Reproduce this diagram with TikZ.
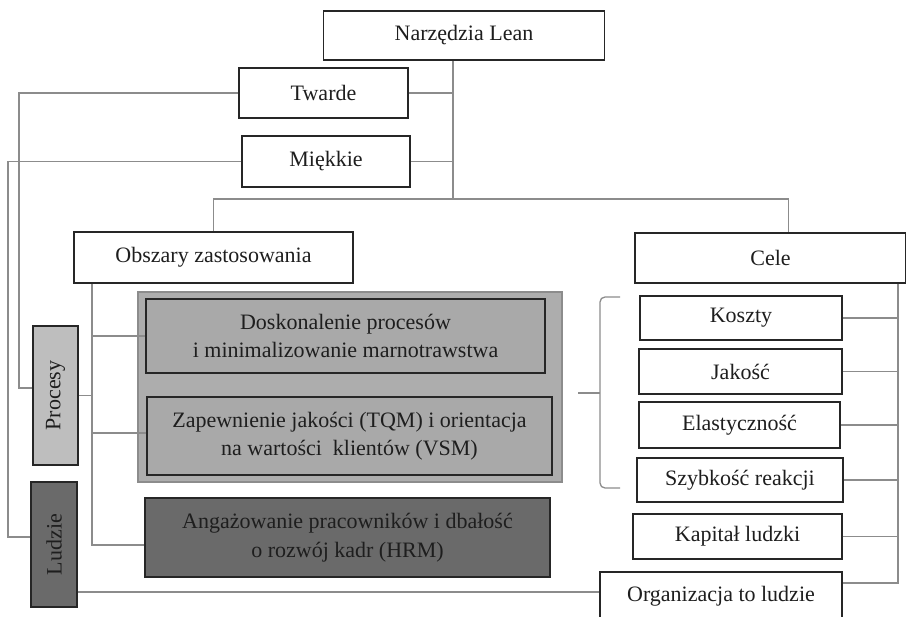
\documentclass[tikz,border=0pt]{standalone}
\usepackage{fontspec}
\setmainfont{Liberation Serif}
\definecolor{boxline}{HTML}{262626}
\definecolor{connc}{HTML}{8C8C8C}
\definecolor{textc}{HTML}{1E1E1E}
\definecolor{panelfill}{HTML}{ADADAD}
\definecolor{midfill}{HTML}{A9A9A9}
\definecolor{lightfill}{HTML}{BEBEBE}
\definecolor{darkfill}{HTML}{6A6A6A}
\begin{document}
\begin{tikzpicture}[x=1pt,y=-1pt,
  box/.style={draw=boxline, line width=1.8pt, fill=white, inner sep=0pt,
    align=center, text=textc, font=\fontsize{22}{28.5}\selectfont},
  conn/.style={draw=connc, line width=1.6pt},
  panel/.style={draw=connc, line width=2.2pt, fill=panelfill, inner sep=0pt}]
\useasboundingbox (0,0) rectangle (906,617);
\fill[white] (0,0) rectangle (906,617);

% top level
\node[box, minimum width=281pt, minimum height=49pt] (lean) at (464,35.5) {Narzędzia Lean};
\node[box, minimum width=169pt, minimum height=50pt] (twarde) at (323.5,93) {Twarde};
\node[box, minimum width=168pt, minimum height=51pt] (miekkie) at (326,161.5) {Miękkie};
\node[box, minimum width=279pt, minimum height=51pt] (obszary) at (213.5,257.5) {Obszary zastosowania};
\node[box, minimum width=271pt, minimum height=50pt] (cele) at (770.5,258) {Cele};

% areas of application
\node[panel, minimum width=424pt, minimum height=190pt] (panel) at (350,387) {};
\node[box, fill=midfill, minimum width=399pt, minimum height=74pt] (dosk) at (345.5,336)
  {Doskonalenie procesów\\ i minimalizowanie marnotrawstwa};
\node[box, fill=midfill, minimum width=405pt, minimum height=78pt] (zap) at (349.5,436)
  {Zapewnienie jakości (TQM) i orientacja\\ na wartości\ \ klientów (VSM)};
\node[box, fill=darkfill, minimum width=405pt, minimum height=79pt] (hrm) at (347.5,537.5)
  {Angażowanie pracowników i dbałość\\ o rozwój kadr (HRM)};
\node[box, fill=lightfill, minimum width=45pt, minimum height=139pt] (procesy) at (55.5,395.5)
  {\rotatebox{90}{Procesy}};
\node[box, fill=darkfill, minimum width=46pt, minimum height=125pt] (ludzie) at (54,544.5)
  {\rotatebox{90}{Ludzie}};

% goals
\node[box, minimum width=202pt, minimum height=44pt] (koszty) at (741,318) {Koszty};
\node[box, minimum width=203pt, minimum height=45pt] (jakosc) at (740.5,371.5) {Jakość};
\node[box, minimum width=201pt, minimum height=46pt] (elast) at (739.5,425) {Elastyczność};
\node[box, minimum width=206pt, minimum height=44pt] (szyb) at (740,480) {Szybkość reakcji};
\node[box, minimum width=209pt, minimum height=45pt] (kapital) at (737.5,536.5) {Kapitał ludzki};
\node[box, minimum width=242pt, minimum height=48pt] (org) at (721,596) {Organizacja to ludzie};

% bus coordinates
\coordinate (trunk) at (453,199);
\coordinate (busA) at (19,388);
\coordinate (busB) at (8,537);
\coordinate (obus) at (92,545);
\coordinate (rbus) at (898,583);
\coordinate (ludbus) at (77,592);

% main trunk
\draw[conn] (trunk |- lean.south) -- (trunk);
\draw[conn] (twarde.east) -- (twarde.east -| trunk);
\draw[conn] (miekkie.east) -- (miekkie.east -| trunk);
\draw[conn] (obszary.north) |- (trunk) -| ([xshift=18pt]cele.north);

% left buses
\draw[conn] (twarde.west) -| (busA) -- (busA -| procesy.west);
\draw[conn] (miekkie.west) -| (busB) -- (busB -| ludzie.west);

% areas bus
\draw[conn] (obus |- obszary.south) -- (obus) -- (obus -| hrm.west);
\draw[conn] (dosk.west) -- (dosk.west -| obus);
\draw[conn] ([yshift=3pt]zap.west) -- ([yshift=3pt]zap.west -| obus);
\draw[conn] (procesy.east) -- (procesy.east -| obus);

% people to organisation
\draw[conn] (ludbus -| ludzie.east) -- (ludbus -| org.west);

% goals bus
\draw[conn] (rbus |- cele.south) -- (rbus) -- (rbus -| org.east);
\foreach \n in {koszty,jakosc,elast,szyb,kapital}
  \draw[conn] (\n.east) -- (\n.east -| rbus);

% brace grouping the first four goals
\draw[conn, line width=1.3pt, rounded corners=5pt] (620,297) -- (600,297) -- (600,488) -- (620,488);
\draw[conn, line width=1.3pt] (578,393) -- (600,393);
\end{tikzpicture}
\end{document}
